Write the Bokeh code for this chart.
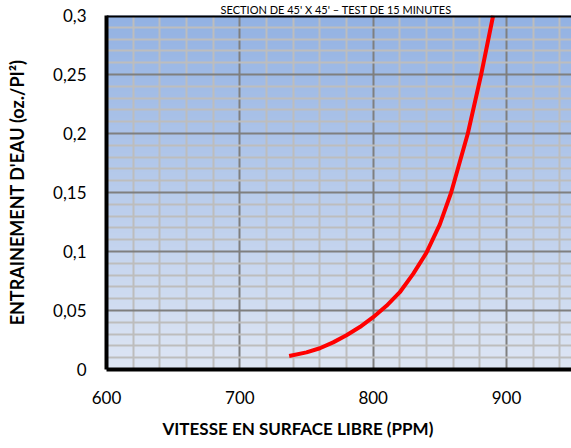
import numpy as np
from bokeh.plotting import figure
from bokeh.models import FixedTicker, Span, Title, CustomJSTickFormatter
from bokeh.embed import file_html
from bokeh.resources import INLINE

# ---- data ----
speed = [737, 750, 760, 770, 780, 790, 800, 810, 820, 830, 840, 850,
         858.5, 865, 871, 876, 881, 885.5, 890]
entrainment = [0.0115, 0.0145, 0.018, 0.023, 0.029, 0.036, 0.0443, 0.054,
               0.0655, 0.081, 0.099, 0.123, 0.15, 0.176, 0.20, 0.225,
               0.25, 0.275, 0.30]
x_ticks = [600, 700, 800, 900]
x_tick_labels = ["600", "700", "800", "900"]
y_ticks = [0, 0.05, 0.1, 0.15, 0.2, 0.25, 0.3]
y_tick_labels = ["0", "0,05", "0,1", "0,15", "0,2", "0,25", "0,3"]
title_text = "SECTION DE 45' X 45'  \u2013  TEST DE 15 MINUTES"
x_label = "VITESSE EN SURFACE LIBRE (PPM)"
y_label = "ENTRAINEMENT D'EAU (oz./PI\u00b2)"

X0, X1 = 600, 948.75
Y0, Y1 = 0, 0.3
FONT = "Lato"

p = figure(width=571, height=448, x_range=(X0, X1), y_range=(Y0, Y1),
           output_backend="svg", toolbar_location=None,
           min_border_left=106, min_border_right=0,
           min_border_top=15, min_border_bottom=79)
p.outline_line_color = None
p.background_fill_color = "#c0d0ec"
p.border_fill_color = "white"

# gradient background
n = 256
img = np.empty((n, 1), dtype=np.uint32)
view = img.view(dtype=np.uint8).reshape((n, 1, 4))
bottom = np.array([222, 230, 244])
top = np.array([147, 178, 227])
for i in range(n):
    t = i / (n - 1)
    c = bottom + (top - bottom) * t
    view[i, 0, 0] = int(c[0]); view[i, 0, 1] = int(c[1]); view[i, 0, 2] = int(c[2]); view[i, 0, 3] = 255
p.image_rgba(image=[img], x=X0, y=Y0, dw=X1 - X0, dh=Y1 - Y0, level="image")

# tickers
x_minor = [v for v in range(600, 1000, 20) if v not in x_ticks]
y_minor = [round(k * 0.01, 2) for k in range(0, 31) if k % 5 != 0]
xt = FixedTicker(ticks=x_ticks, minor_ticks=x_minor)
yt = FixedTicker(ticks=y_ticks, minor_ticks=y_minor)
p.xaxis.ticker = xt
p.yaxis.ticker = yt
p.xgrid.ticker = xt
p.ygrid.ticker = yt

fmt_code = """
for (let i = 0; i < vals.length; i++) {
  if (Math.abs(vals[i] - tick) < 1e-9) return labs[i];
}
return String(tick);
"""
p.xaxis.formatter = CustomJSTickFormatter(args=dict(vals=x_ticks, labs=x_tick_labels), code=fmt_code)
p.yaxis.formatter = CustomJSTickFormatter(args=dict(vals=y_ticks, labs=y_tick_labels), code=fmt_code)

for g in (p.xgrid, p.ygrid):
    g.grid_line_color = "#7f7f7f"
    g.grid_line_width = 2
    g.minor_grid_line_color = "#bdbdbd"
    g.minor_grid_line_width = 2

for ax in (p.xaxis, p.yaxis):
    ax.axis_line_color = "black"
    ax.axis_line_width = 4
    ax.major_tick_line_color = None
    ax.minor_tick_line_color = None
    ax.major_label_text_font = FONT
    ax.major_label_text_font_size = "17px"
    ax.major_label_text_color = "black"
    ax.axis_label_text_font = FONT
    ax.axis_label_text_font_style = "bold"
    ax.axis_label_text_color = "black"

p.yaxis.axis_label = y_label
p.yaxis.axis_label_text_font_size = "18px"
p.xaxis.major_label_standoff = 15
p.yaxis.major_label_standoff = 14
p.yaxis.axis_label_standoff = 22

# x-axis title (placed as in the reference, left of the frame centre)
p.add_layout(Title(text=x_label, align="left", offset=56, standoff=19,
                   text_font=FONT, text_font_style="bold",
                   text_font_size="17px", text_color="black"), "below")

# chart title at the top
p.add_layout(Title(text=title_text, align="center", standoff=0,
                   text_font=FONT, text_font_style="normal",
                   text_font_size="11px", text_color="black"), "above")

# top border
p.add_layout(Span(location=Y1, dimension="width", line_color="black", line_width=4))

# curve
p.line(speed, entrainment, line_color="#ff0000", line_width=4)

open("out.html", "w").write(file_html(p, INLINE))
